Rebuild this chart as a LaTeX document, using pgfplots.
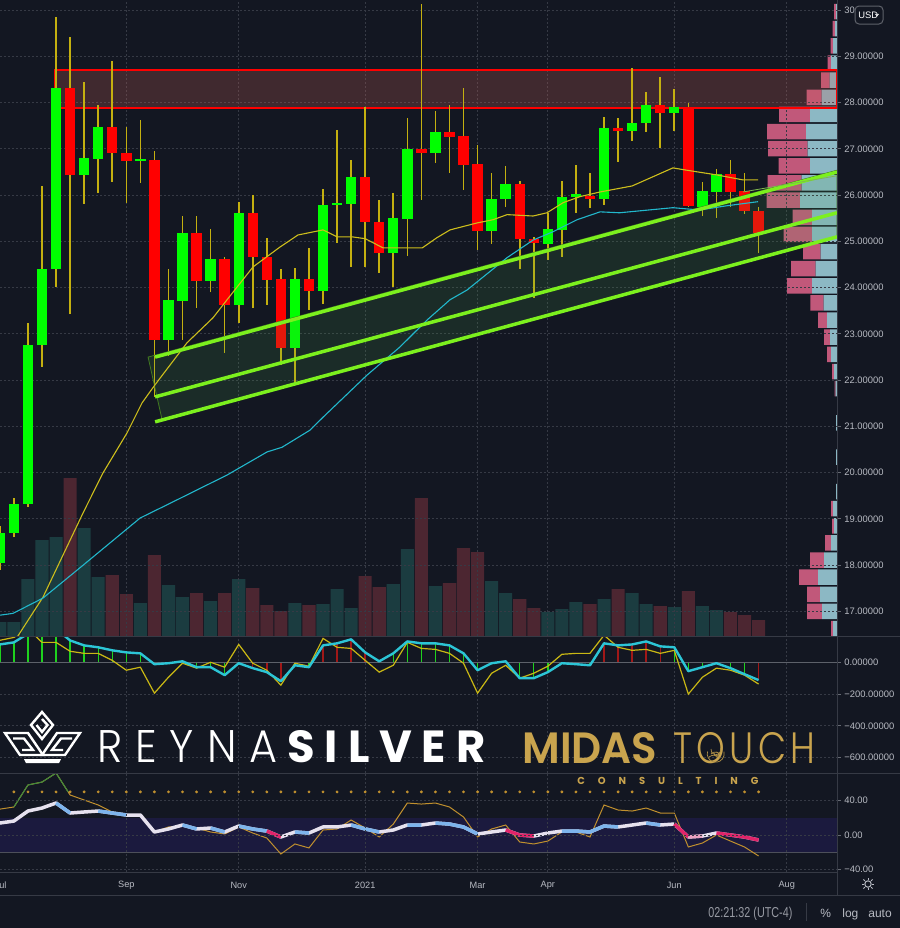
\documentclass[border=0pt]{standalone}
\usepackage{fontspec}
\setmainfont{Liberation Sans}
\newfontfamily\pop{Poppins}
\IfFontExistsTF{Poppins Light}{\newfontfamily\popl{Poppins Light}}{\newfontfamily\popl{Poppins}}
\IfFontExistsTF{Poppins SemiBold}{\newfontfamily\pops{Poppins SemiBold}}{\newfontfamily\pops{Poppins}[FakeBold=1.5]}
\usepackage{graphicx}
\usepackage{pgfplots}
\usepackage{pgfplotstable}
\pgfplotsset{compat=1.18}

\definecolor{bg}{HTML}{131722}
\definecolor{gridc}{HTML}{363A45}
\definecolor{sepc}{HTML}{363A45}
\definecolor{labc}{HTML}{B8BBC3}
\definecolor{cup}{HTML}{00FF00}
\definecolor{cdn}{HTML}{FF0000}
\definecolor{wick}{HTML}{C4B010}
\definecolor{volup}{HTML}{1B3C40}
\definecolor{voldn}{HTML}{4C2631}
\definecolor{vpblue}{HTML}{8CB8C4}
\definecolor{vppink}{HTML}{C1587A}
\definecolor{zonefill}{RGB}{199,95,86}
\definecolor{chfill}{RGB}{76,175,80}
\definecolor{chline}{HTML}{7CF01E}
\definecolor{maY}{HTML}{CDBE1C}
\definecolor{maC}{HTML}{22B8CC}
\definecolor{oscC}{HTML}{2CC5D6}
\definecolor{oscY}{HTML}{C9B814}
\definecolor{histG}{HTML}{1ED21E}
\definecolor{histR}{HTML}{A01818}
\definecolor{band}{HTML}{1B1A3E}
\definecolor{rsiW}{HTML}{E6E1EE}
\definecolor{rsiB}{HTML}{7DB4EC}
\definecolor{rsiP}{HTML}{E0246A}
\definecolor{rsiLP}{HTML}{E8A0C0}
\definecolor{thinG}{HTML}{C0902E}
\definecolor{thinGr}{HTML}{3C8C3C}
\definecolor{gold}{HTML}{C9A44E}

% weekly candles: bar index (0 = first week of Sep 2020), OHLC, volume
\pgfplotstableread{
i o h l c v
-9 18.04 18.85 17.90 18.69 14
-8 18.69 19.45 18.60 19.32 14
-7 19.32 23.24 19.26 22.76 57
-6 22.76 26.20 22.29 24.41 96
-5 24.41 29.86 24.02 28.32 99
-3 26.44 28.45 25.81 26.81 108
-2 26.79 27.94 26.05 27.48 59
1 26.74 27.63 26.27 26.77 33
3 22.87 24.41 22.52 23.74 51
4 23.71 25.55 22.87 25.19 39
6 24.15 25.27 23.90 24.62 35
8 23.63 25.86 23.24 25.62 57
12 22.70 24.43 21.90 24.19 33
14 23.93 26.14 23.65 25.79 32
15 25.79 27.42 24.97 25.83 47
16 25.81 26.77 24.45 26.40 28
19 24.75 26.05 24.02 25.51 52
20 25.49 27.67 24.69 27.00 87
22 26.92 27.81 26.70 27.37 50
26 25.23 26.48 24.95 25.92 55
27 25.92 26.64 25.75 26.25 43
30 24.95 25.62 24.60 25.27 24
31 25.25 26.31 24.67 25.97 27
32 25.97 26.66 25.62 26.01 34
34 25.92 27.70 25.79 27.46 37
36 27.39 28.76 27.18 27.57 43
37 27.57 28.24 27.37 27.94 32
39 27.78 28.30 27.39 27.91 29
41 25.75 26.29 25.55 26.10 30
42 26.07 26.57 25.51 26.46 26
}\greentab

\pgfplotstableread{
i o h l c v
-4 28.32 29.41 23.43 26.44 158
-1 27.48 28.91 26.29 26.92 61
0 26.92 27.48 25.84 26.74 42
2 26.77 26.96 21.64 22.87 81
5 25.19 25.55 23.56 24.15 43
7 24.62 24.67 22.59 23.63 43
9 25.62 26.01 23.56 24.67 48
10 24.67 25.08 23.63 24.17 31
11 24.19 24.41 22.33 22.70 25
13 24.19 24.86 23.52 23.93 31
17 26.40 27.91 24.45 25.42 60
18 25.42 25.90 24.32 24.75 49
21 27.00 30.14 25.90 26.92 138
23 27.37 27.96 26.48 27.26 53
24 27.29 28.32 26.12 26.66 88
25 26.68 27.09 24.82 25.23 84
28 26.25 26.30 24.41 25.06 37
29 25.06 25.10 23.78 24.97 28
33 25.99 26.48 25.73 25.92 32
35 27.46 27.67 26.72 27.39 47
38 27.94 28.56 27.03 27.78 30
40 27.91 28.00 25.75 25.77 45
43 26.46 26.77 25.75 26.07 24
44 26.10 26.48 25.59 25.66 21
45 25.66 25.75 24.75 25.19 16
}\redtab

% volume profile rows (row k from the top), up and down volume
\pgfplotstableread{
k b p
0 1 2
1 2 2.5
2 4 2.5
3 6 3.5
4 7.5 8.5
5 15.5 15
6 27 31
7 31 39
8 29.5 39.5
9 27 31.5
10 35.5 34
11 37 33.5
12 25 19.5
13 25 28.5
14 16.5 17.5
15 21.5 24.5
16 25 25
17 13.3 13.3
18 10 9
19 7 6
20 6 4
21 3 2
22 1.5 1
24 1 0
26 1 0
28 1 0
29 4 2
30 3 2
31 6 6
32 13 14
33 19 19
34 17 13
35 15 15
36 4 2
}\proftab

\pgfplotsset{
  tvbase/.style={scale only axis, width=418.5pt, xmin=-8.99, xmax=50.58,
    enlargelimits=false, anchor=north west},
  tvdata/.style={tvbase, hide axis},
  tvgrid/.style={tvbase, axis line style={draw=none},
    xmajorgrids, ymajorgrids,
    grid style={gridc, line width=0.5pt, dash pattern=on 1pt off 1pt},
    xtick={0,8,17,25,30,39,47}, xticklabels={}, xtick style={draw=none},
    ytick pos=right, yticklabel pos=right, tick align=outside,
    major tick length=2pt, ytick style={labc!50!bg, line width=0.5pt},
    yticklabel style={font=\fontsize{4.7}{5}\selectfont, text=labc,
      anchor=west, inner sep=0pt, xshift=1.5pt}},
  candle/.style={only marks, mark=*, mark size=0pt, mark options={draw=none, fill=none},
    error bars/.cd, y dir=plus, y explicit, error mark=none},
}

\begin{document}
\begin{tikzpicture}
\useasboundingbox (0pt,0pt) rectangle (450pt,-464pt);
\clip (0pt,0pt) rectangle (450pt,-464pt);
\fill[bg] (0pt,0pt) rectangle (450pt,-464pt);

% volume
\begin{axis}[tvdata, at={(0pt,0pt)}, height=318pt, ymin=0, ymax=636]
\addplot[ybar, bar width=0.93, bar shift=0pt, fill=volup, draw=none] table[x=i, y=v] {\greentab};
\addplot[ybar, bar width=0.93, bar shift=0pt, fill=voldn, draw=none] table[x=i, y=v] {\redtab};
\end{axis}

% volume profile
\begin{axis}[tvdata, at={(0pt,0pt)}, height=318pt, xmin=0, xmax=837, ymin=0, ymax=636,
  x dir=reverse, y dir=reverse, xbar stacked, bar width=15.5]
\addplot[fill=vpblue, draw=none] table[x=b, y expr=11.57+17.14*\thisrow{k}] {\proftab};
\addplot[fill=vppink, draw=none] table[x=p, y expr=11.57+17.14*\thisrow{k}] {\proftab};
\end{axis}

% price grid and scale
\begin{axis}[tvgrid, at={(0pt,0pt)}, height=318pt, ymin=16.47, ymax=30.22,
  ytick={17,...,30},
  yticklabels={17.00000,18.00000,19.00000,20.00000,21.00000,22.00000,23.00000,24.00000,25.00000,26.00000,27.00000,28.00000,29.00000,30}]
\end{axis}

% price data
\begin{axis}[tvdata, at={(0pt,0pt)}, height=318pt, ymin=16.47, ymax=30.22]
\addplot[fill=zonefill, fill opacity=0.25, draw=cdn, line width=0.8pt]
  coordinates {(-5.07,28.71) (50.58,28.71) (50.58,27.89) (-5.07,27.89)} -- cycle;
\addplot[candle, error bar style={line width=0.8pt, draw=wick}]
  table[x=i, y=l, y error expr=\thisrow{h}-\thisrow{l}] {\greentab};
\addplot[candle, error bar style={line width=0.8pt, draw=wick}]
  table[x=i, y=l, y error expr=\thisrow{h}-\thisrow{l}] {\redtab};
\addplot[candle, error bar style={line width=5.2pt, draw=cup}]
  table[x=i, y=o, y error expr={max(\thisrow{c}-\thisrow{o},0.05)}] {\greentab};
\addplot[candle, error bar style={line width=5.2pt, draw=cdn}]
  table[x=i, y=c, y error expr={max(\thisrow{o}-\thisrow{c},0.05)}] {\redtab};
% channel background
\addplot[fill=chfill, fill opacity=0.14, draw=chline!45!bg, line width=0.4pt]
  coordinates {(1.55,22.50) (50.58,26.54) (50.58,25.10) (2.55,21.14)} -- cycle;
% moving averages
\addplot[maY, line width=0.55pt] coordinates {(-8.2,16.2) (-7.78,16.44) (-5.93,17.31)
  (-3.08,19.13) (-1.67,19.99) (0.05,20.86) (1.12,21.51) (2.04,21.90) (4.32,22.81)
  (6.17,23.35) (7.17,23.74) (9.02,24.45) (10.94,24.88) (12.22,25.14) (14.0,25.25)
  (15.0,25.10) (16.06,25.10) (17.0,25.06) (18.28,24.86) (19.28,24.86) (21.06,24.86)
  (22.1,25.08) (23.04,25.25) (24.96,25.40) (26.1,25.47) (27.1,25.58) (28.95,25.55)
  (29.94,25.62) (31.1,25.84) (32.3,25.97) (33.72,26.07) (36.0,26.20) (38.9,26.59)
  (40.1,26.53) (42.0,26.44) (43.9,26.33) (44.96,26.33)};
\addplot[maC, line width=0.55pt] coordinates {(-8.99,16.92) (-8.06,16.96) (-5.93,17.29)
  (-3.08,18.0) (0.98,19.02) (3.12,19.34) (7.17,19.95) (10.02,20.45) (11.08,20.55)
  (13.07,20.92) (14.0,21.20) (17.13,22.11) (19.48,22.72) (21.4,23.30) (23.04,23.74)
  (24.25,23.95) (27.1,24.65) (28.95,25.03) (30.37,25.21) (32.08,25.47) (33.72,25.64)
  (35.1,25.62) (38.9,25.73) (40.8,25.68) (42.7,25.77) (44.96,25.86)};
% channel lines
\addplot[chline, line width=1.75pt] coordinates {(2.05,22.50) (50.58,26.50)};
\addplot[chline, line width=1.75pt] coordinates {(2.05,21.64) (50.58,25.62)};
\addplot[chline, line width=1.75pt] coordinates {(2.05,21.10) (50.58,25.10)};
\addplot[chline!50!gray, line width=0.4pt] coordinates {(43.89,26.07) (50.58,26.42)};
\end{axis}

% oscillator pane
\begin{axis}[tvgrid, at={(0pt,-318pt)}, height=68.5pt, ymin=-696, ymax=165,
  ytick={-600,-400,-200,0},
  yticklabels={−600.00000,−400.00000,−200.00000,0.00000}]
\addplot[ycomb, histG, line width=0.7pt] coordinates {(-9,112) (-8,125) (-7,180) (-6,230)
  (-5,210) (-4,137) (-3,106) (-2,94) (-1,75) (0,62) (1,56) (2,-12) (3,-6) (4,6) (5,-31)
  (6,-31) (7,-81) (12,-19) (13,-31) (19,56) (20,131) (21,119) (22,119) (23,106) (24,56)
  (25,-50) (26,-6) (27,6) (28,-100) (29,-100) (30,-62) (31,-6) (32,-12) (33,-19) (39,94)
  (40,-56) (41,-31) (42,-6) (43,-37) (44,-75)};
\addplot[ycomb, histR, line width=0.7pt] coordinates {(8,-6) (9,-37) (10,-62) (11,-119)
  (14,106) (15,119) (16,144) (17,62) (18,6) (34,119) (35,106) (36,112) (37,131) (38,100)
  (45,-112)};
\addplot[labc!45!bg, line width=0.6pt] coordinates {(-9,0) (51,0)};
\addplot[oscY, line width=0.6pt] coordinates {(-9,138) (-8,156) (-7,210) (-6,125) (-5,125)
  (-4,69) (-3,56) (-2,56) (-1,12) (0,-50) (1,-31) (2,-194) (3,-94) (4,-6) (5,-37) (6,0)
  (7,-31) (8,112) (9,-6) (10,-50) (11,-144) (12,-6) (13,-25) (14,150) (15,94) (16,87)
  (17,12) (18,-62) (19,-19) (20,125) (21,87) (22,81) (23,56) (24,-6) (25,-194) (26,-69)
  (27,-19) (28,-100) (29,-69) (30,-25) (31,50) (32,56) (33,56) (34,170) (35,94) (36,75)
  (37,81) (38,56) (39,75) (40,-200) (41,-94) (42,-37) (43,-50) (44,-81) (45,-137)};
\addplot[oscC, line width=1.2pt, line join=round] coordinates {(-9,112) (-8,125) (-7,180)
  (-6,230) (-5,210) (-4,137) (-3,106) (-2,94) (-1,75) (0,62) (1,56) (2,-12) (3,-6) (4,6)
  (5,-31) (6,-31) (7,-81) (8,-6) (9,-37) (10,-62) (11,-119) (12,-19) (13,-31) (14,106)
  (15,119) (16,144) (17,62) (18,6) (19,56) (20,131) (21,119) (22,119) (23,106) (24,56)
  (25,-50) (26,-6) (27,6) (28,-100) (29,-100) (30,-62) (31,-6) (32,-12) (33,-19) (34,119)
  (35,106) (36,112) (37,131) (38,100) (39,94) (40,-56) (41,-31) (42,-6) (43,-37) (44,-75)
  (45,-112)};
\end{axis}

% momentum pane
\begin{axis}[tvgrid, at={(0pt,-386.5pt)}, height=49.5pt, ymin=-42.9, ymax=71.9,
  axis on top,
  ytick={-40,0,40}, yticklabels={−40.00,0.00,40.00},
  xticklabels={Sep,Nov,2021,Mar,Apr,Jun,Aug},
  xticklabel style={font=\fontsize{4.6}{5}\selectfont, text=labc, anchor=center,
    inner sep=0pt, yshift=-4.6pt},
  extra x ticks={-8.95}, extra x tick labels={Jul}, extra x tick style={grid=none},
  unbounded coords=jump]
\addplot[fill=band, draw=none] coordinates {(-9,-20) (51,-20) (51,20) (-9,20)} -- cycle;
\addplot[labc!35!bg, line width=0.5pt] coordinates {(-9,-20) (51,-20)};
\addplot[only marks, mark=*, mark size=0.5pt, thinG] coordinates {(-9,50) (-8,50) (-7,50)
  (-6,50) (-5,50) (-4,50) (-3,50) (-2,50) (-1,50) (0,50) (1,50) (2,50) (3,50) (4,50)
  (5,50) (6,50) (7,50) (8,50) (9,50) (10,50) (11,50) (12,50) (13,50) (14,50) (15,50)
  (16,50) (17,50) (18,50) (19,50) (20,50) (21,50) (22,50) (23,50) (24,50) (25,50)
  (26,50) (27,50) (28,50) (29,50) (30,50) (31,50) (32,50) (33,50) (34,50) (35,50)
  (36,50) (37,50) (38,50) (39,50) (40,50) (41,50) (42,50) (43,50) (44,50) (45,50)};
\addplot[thinG, line width=0.5pt] coordinates {(-9,30) (-8,32.5) (-7,58) (-6,61.4)
  (-5,71.9) (-4,46.4) (-3,40.6) (-2,34.8) (-1,26.7) (0,23.2) (1,22) (2,3.5) (3,9.3)
  (4,10.4) (5,8.1) (6,3.5) (7,1.2) (8,9.3) (9,2.3) (10,-3.5) (11,-22) (12,-10.4)
  (13,-15) (14,5.8) (15,7) (16,17.4) (17,8.1) (18,-2.3) (19,12.7) (20,37.1) (21,35.9)
  (22,37.1) (23,32.5) (24,20.9) (25,-2.3) (26,7) (27,11.6) (28,-8.1) (29,-10.4) (30,-7)
  (31,3.5) (32,3.5) (33,-2.3) (34,34.8) (35,29) (36,27.8) (37,31.3) (38,25.5) (39,25.5)
  (40,-13.9) (41,-9.3) (42,0) (43,-7) (44,-13.9) (45,-24.3)};
\addplot[thinGr, line width=0.5pt] coordinates {(-8,32.5) (-7,58) (-6,61.4) (-5,71.9) (-4.14,50)};
\addplot[rsiW, line width=1.75pt, line join=round] coordinates {(-9,13.9) (-8,16.2)
  (-7,27.8) (-6,31.3) (-5,37.1) (-4,25.5) (-3,26.7) (-2,27.8) (-1,25.5) (0,23.2) (1,23.2)
  (2,3.5) (3,7) (4,11.6) (5,7) (6,8.1) (7,3.5) (8,10.4) (9,7) (10,4.6) (11,-2.3) (12,3.5)
  (13,2.3) (14,9.3) (15,9.3) (16,11.6) (17,7) (18,3.5) (19,5.8) (20,11.6) (21,11.6)
  (22,13.9) (23,12.7) (24,9.3) (25,1.2) (26,3.5) (27,5.8) (28,0) (29,-1.2) (30,2.3)
  (31,4.6) (32,4.6) (33,3.5) (34,10.4) (35,9.3) (36,11.6) (37,13.9) (38,11.6) (39,12.7)
  (40,-2.3) (41,-1.2) (42,2.3) (43,0) (44,-2.3) (45,-5.8)};
\addplot[rsiB, line width=1.75pt, line join=round] coordinates {(-5,37.1) (-4,25.5)
  (-3.5,nan) (-2,27.8) (-1,25.5) (0,23.2) (0.5,nan) (4,11.6) (5,7) (5.5,nan) (6,8.1)
  (7,3.5) (7.5,nan) (8,10.4) (9,7) (10,4.6) (10.5,nan) (12,3.5) (13,2.3) (13.5,nan)
  (16,11.6) (17,7) (18,3.5) (18.5,nan) (20,11.6) (21,11.6) (21.5,nan) (22,13.9)
  (23,12.7) (24,9.3) (25,1.2) (25.5,nan) (31,4.6) (32,4.6) (33,3.5) (34,10.4) (35,9.3)
  (35.5,nan) (37,13.9) (38,11.6)};
\addplot[rsiP, line width=1.75pt, line join=round] coordinates {(10,4.6) (11,-2.3)
  (11.5,nan) (27,5.8) (28,0) (29,-1.2) (29.5,nan) (39,12.7) (40,-2.3) (40.5,nan)
  (42,2.3) (43,0) (44,-2.3) (45,-5.8)};
\addplot[rsiLP, line width=1.75pt] coordinates {(40,-2.3) (41,-1.2)};
\end{axis}

\begin{scope}[x=0.5pt, y=-0.5pt]
% panel borders
\draw[sepc, line width=0.5pt] (0,636) -- (900,636) (0,773) -- (900,773)
  (0,872) -- (837,872) (0,895) -- (900,895) (837,0) -- (837,895);
\draw[sepc, line width=0.5pt] (806,903) -- (806,921);
% currency box
\draw[sepc!80!white, line width=0.5pt, fill=bg, rounded corners=2] (855,6) rectangle (883,24);
\node[text=white, inner sep=0, anchor=west] at (858,15) {\fontsize{4.7}{5}\selectfont USD};
\draw[white, line width=0.4pt] (875.5,14) -- (877,15.6) -- (878.5,14);
% gear
\draw[labc, line width=0.5pt] (868,884) circle (3.2);
\foreach \a in {0,45,...,315} \draw[labc, line width=0.5pt] (868,884) ++(\a:4.4) -- ++(\a:2);
% status bar
\node[text=labc!80!bg, inner sep=0, anchor=base west] at (708,917)
  {\resizebox{42pt}{5.2pt}{02:21:32 (UTC-4)}};
\node[text=labc, inner sep=0, anchor=base west] at (820,917) {\fontsize{6}{6}\selectfont \%};
\node[text=labc, inner sep=0, anchor=base west] at (842,917) {\fontsize{6}{6}\selectfont log};
\node[text=labc, inner sep=0, anchor=base west] at (868,917) {\fontsize{6}{6}\selectfont auto};
% Reyna Silver emblem
\begin{scope}[white, line width=1.2pt, line join=miter]
\draw (5,733) -- (28,733) -- (43,755) -- (20,755) -- cycle;
\draw (13,738.5) -- (24,738.5) -- (33,750) -- (22,750);
\draw (80,733) -- (57,733) -- (42,755) -- (65,755) -- cycle;
\draw (72,738.5) -- (61,738.5) -- (52,750) -- (63,750);
\draw (42,712) -- (53,725) -- (42,739) -- (31,725) -- cycle;
\draw (42,719) -- (47.5,725) -- (42,732) -- (36.5,725);
\fill (24,759) -- (61,759) -- (59,763) -- (26,763) -- cycle;
\end{scope}
\node[text=white, inner sep=0, anchor=base west] at (97,762)
  {\resizebox{90pt}{16pt}{\popl R\hspace{.3em}E\hspace{.3em}Y\hspace{.3em}N\hspace{.3em}A}};
\node[text=white, inner sep=0, anchor=base west] at (287,762)
  {\resizebox{99pt}{16pt}{\pop\bfseries S\hspace{.22em}I\hspace{.22em}L\hspace{.22em}V\hspace{.22em}E\hspace{.22em}R}};
\node[text=gold, inner sep=0, anchor=base west] at (522,763)
  {\resizebox{67.5pt}{15.5pt}{\pops MIDAS}};
\node[text=gold, inner sep=0, anchor=base west] at (673,763)
  {\resizebox{71pt}{15.5pt}{\popl T\hspace{.12em}O\hspace{.12em}U\hspace{.12em}C\hspace{.12em}H}};
\begin{scope}[gold!85!bg, line width=0.35pt]
\draw (716.5,752) arc (-90:200:2.2);
\draw (711,749) arc (190:-20:5);
\draw (707.5,751.5) arc (195:-15:8.5);
\draw (709,757) arc (230:320:8);
\draw (711,754) arc (220:330:5.5);
\end{scope}
\node[text=gold, inner sep=0, anchor=base west] at (577,784.5)
  {\resizebox{90.5pt}{3.6pt}{\pop\bfseries C\hspace{1.3em}O\hspace{1.3em}N\hspace{1.3em}S\hspace{1.3em}U\hspace{1.3em}L\hspace{1.3em}T\hspace{1.3em}I\hspace{1.3em}N\hspace{1.3em}G}};
\end{scope}
\end{tikzpicture}
\end{document}
